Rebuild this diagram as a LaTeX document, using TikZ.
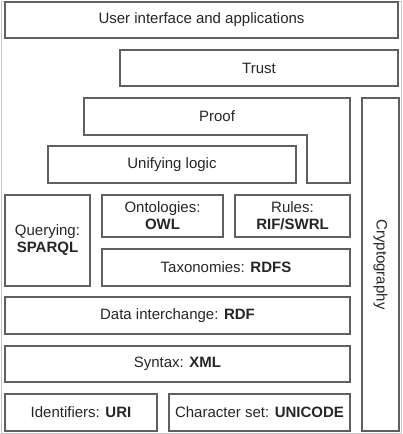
\documentclass[tikz,border=0pt]{standalone}
\usepackage{fontspec}
\setmainfont{Liberation Sans}
\definecolor{boxline}{HTML}{606060}
\definecolor{framegray}{HTML}{C8C8C8}

\begin{document}
\begin{tikzpicture}[x=1pt,y=-1pt,font=\fontsize{15}{17}\selectfont,
  layer/.style={draw=boxline,line width=1.2pt,inner sep=0pt,
    text=black!85,align=center}]
\useasboundingbox (0,0) rectangle (402,434);
\draw[framegray,line width=1pt] (1,1) rectangle (401,433);

% Layers of the stack, from the top down: name/centre x/centre y/width/height/text.
\foreach \name/\x/\y/\w/\h/\txt in {
  ui/201.5/20/393/36/{User interface and applications},
  trust/259/68/278/36/{Trust},
  logic/172/164.5/248/37/{Unifying logic},
  query/47.5/240.5/85/91/{Querying:\\\textbf{SPARQL}},
  onto/162.5/216/121/42/{Ontologies:\\\textbf{OWL}},
  rules/292.5/216/115/42/{Rules:\\\textbf{RIF/SWRL}},
  rdfs/226/267.5/248/37/{Taxonomies: \textbf{RDFS}},
  rdf/177.5/315.5/345/37/{Data interchange: \textbf{RDF}},
  xml/177.5/364/345/36/{Syntax: \textbf{XML}},
  uri/81/412.5/152/37/{Identifiers: \textbf{URI}},
  unicode/259.5/412.5/181/37/{Character set: \textbf{UNICODE}}}
  \node[layer,minimum width=\w,minimum height=\h] (\name) at (\x,\y) {\txt};

% Proof wraps round the right end of Unifying logic.
\draw[boxline,line width=1.2pt] (84,98) -| (350,183) -| (307,135) -- (84,135) -- cycle;
\node[text=black!85] (proof) at (217,116.5) {Proof};

% Cryptography runs down the side of the stack.
\node[layer,rotate=-90,minimum width=333,minimum height=37] (crypto)
  at (380.5,264.5) {Cryptography};
\end{tikzpicture}
\end{document}
